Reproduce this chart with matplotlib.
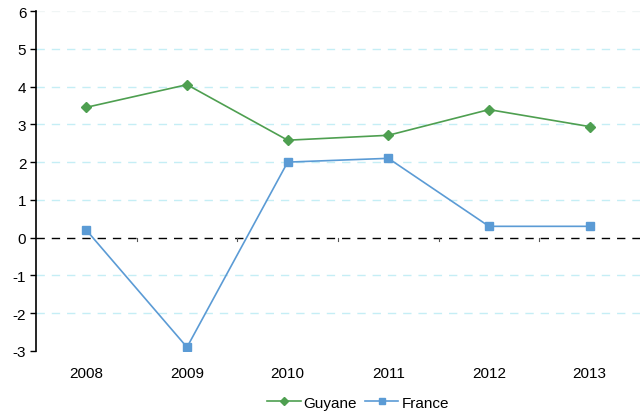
import matplotlib
matplotlib.use("Agg")
import matplotlib.pyplot as plt

years = ["2008", "2009", "2010", "2011", "2012", "2013"]
guyane = [3.45, 4.05, 2.58, 2.71, 3.39, 2.94]
france = [0.2, -2.9, 2.0, 2.1, 0.3, 0.3]

plt.rcParams['font.family'] = ['Liberation Sans', 'DejaVu Sans']
plt.rcParams['axes.unicode_minus'] = False
fig = plt.figure(figsize=(6.41, 4.14), dpi=100)
W, H = 641, 414
ax = fig.add_axes([36 / W, 1 - 352 / H, 604 / W, 340 / H])

x = list(range(len(years)))
for yv in [1, 2, 3, 4, 5, -1, -2]:
    ax.axhline(yv, color='#c5eef5', lw=1.0, ls=(0, (6, 5)), zorder=1)
ax.axhline(6, color='#f0f5f5', lw=1.0, ls=(0, (6, 5)), zorder=1)
ax.axhline(0, color='black', lw=1.0, ls=(0, (6, 5)), zorder=2)

ax.plot(x, guyane, color='#4e9f50', marker='D', ms=5, lw=1.2, label='Guyane', zorder=3)
ax.plot(x, france, color='#5b9bd5', marker='s', ms=5.5, lw=1.2, label='France', zorder=3)

ax.set_xlim(-0.5, 5.5)
ax.set_ylim(-3, 6)
ax.set_yticks(range(-3, 7))
ax.set_xticks(x)
ax.set_xticklabels(years)
ax.tick_params(axis='x', length=0, labelsize=11, pad=11)
ax.tick_params(axis='y', length=4, labelsize=11, direction='out', width=1, pad=3)
for s in ['top', 'right', 'bottom']:
    ax.spines[s].set_visible(False)
ax.spines['left'].set_linewidth(1.2)

for b in [0.5, 1.5, 2.5, 3.5, 4.5]:
    ax.plot([b, b], [0, -0.1], color='#555555', lw=0.8, zorder=2)

fig.legend(loc='lower center', bbox_to_anchor=(358 / W, -0.025), ncol=2, frameon=False,
           fontsize=11, handlelength=2.2, columnspacing=0.5, handletextpad=0.2,
           markerscale=0.75)

fig.savefig('out.png', dpi=100)
